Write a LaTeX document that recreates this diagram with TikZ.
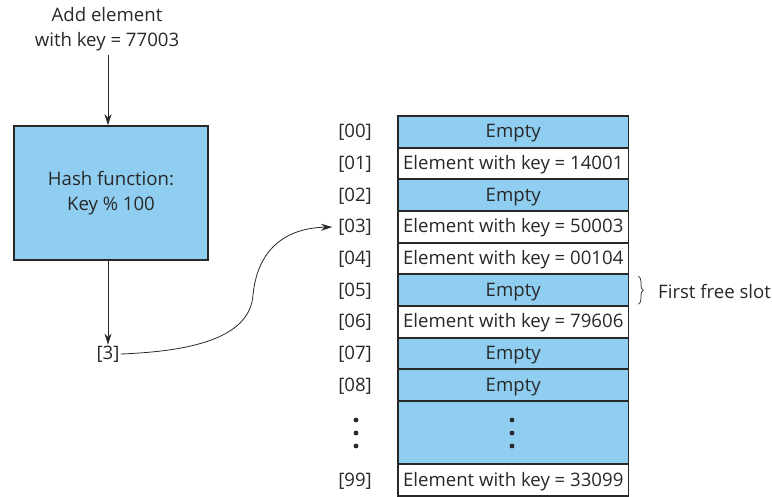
\documentclass[tikz,border=0pt]{standalone}
\usepackage{fontspec}
\setmainfont{Open Sans}
\usetikzlibrary{arrows.meta,decorations.pathreplacing}
\definecolor{cellblue}{RGB}{143,206,240}
\definecolor{ink}{RGB}{40,40,40}
\begin{document}
\begin{tikzpicture}[x=1pt,y=-1pt,
  font=\fontsize{18.6}{24.5}\selectfont, text=ink,
  arr/.style={-{Stealth[length=11pt,width=7pt]}, line width=0.8pt, draw=ink},
  cell/.style={minimum width=230pt, minimum height=31.6pt, inner sep=0pt, text height=16pt, text depth=4pt, anchor=north west},
  ecell/.style={cell, fill=cellblue},
  wcell/.style={cell, fill=white},
  border/.style={draw=ink, line width=1.6pt},
  lab/.style={inner sep=2pt, text height=16pt, text depth=4pt}]
\useasboundingbox (0,0) rectangle (772,497);
\node[align=center, inner sep=0pt] (add) at (107,29) {Add element\\with key = 77003};
\node[draw=ink, fill=cellblue, line width=1.6pt, minimum width=194pt, minimum height=134pt, inner sep=0pt, align=center] (hash) at (111,193) {Hash function:\\Key \% 100};
\node[inner sep=1pt] (three) at (108,354) {[3]};
\draw[arr] (108,55) -- (hash.north -| 108,0);
\coordinate (hb) at (108,260);
\draw[arr] (hb) -- (three.north);
% table
\def\rh{31.65}
\node[ecell] (r00) at (398,116) {Empty};
\node[wcell] (r01) at (398,116+\rh) {Element with key = 14001};
\node[ecell] (r02) at (398,116+2*\rh) {Empty};
\node[wcell] (r03) at (398,116+3*\rh) {Element with key = 50003};
\node[wcell] (r04) at (398,116+4*\rh) {Element with key = 00104};
\node[ecell] (r05) at (398,116+5*\rh) {Empty};
\node[wcell] (r06) at (398,116+6*\rh) {Element with key = 79606};
\node[ecell] (r07) at (398,116+7*\rh) {Empty};
\node[ecell] (r08) at (398,116+8*\rh) {Empty};
\node[ecell, minimum height=2*\rh] (rdots) at (398,116+9*\rh) {};
\node[wcell] (r99) at (398,116+11*\rh) {Element with key = 33099};
\foreach \n in {r00,r01,r02,r03,r04,r05,r06,r07,r08,rdots,r99}
  \draw[border] (\n.north west) rectangle (\n.south east);
\foreach \n/\t in {00/[00],01/[01],02/[02],03/[03],04/[04],05/[05],06/[06],07/[07],08/[08],99/[99]}
  \node[lab, anchor=east] (l\n) at ([xshift=-24pt]r\n.west) {\t};
\foreach \yy in {420,433,446} {
  \fill[ink] (356,\yy) circle (2.4pt);
  \fill[ink] (512,\yy) circle (2.4pt);
}
\draw[arr, shorten >=4pt] (three.east) .. controls (200,351) and (250,335) .. (253,295)
   .. controls (258,245) and (290,228) .. (l03.west);
\draw[ink, line width=0.7pt, decorate, decoration={brace, amplitude=5pt}]
  ([xshift=10pt,yshift=-2pt]r05.north east) -- ([xshift=10pt,yshift=2pt]r05.south east) coordinate[midway] (bm);
\node[anchor=west, inner sep=0pt] (free) at (658,291) {First free slot};
\end{tikzpicture}
\end{document}
